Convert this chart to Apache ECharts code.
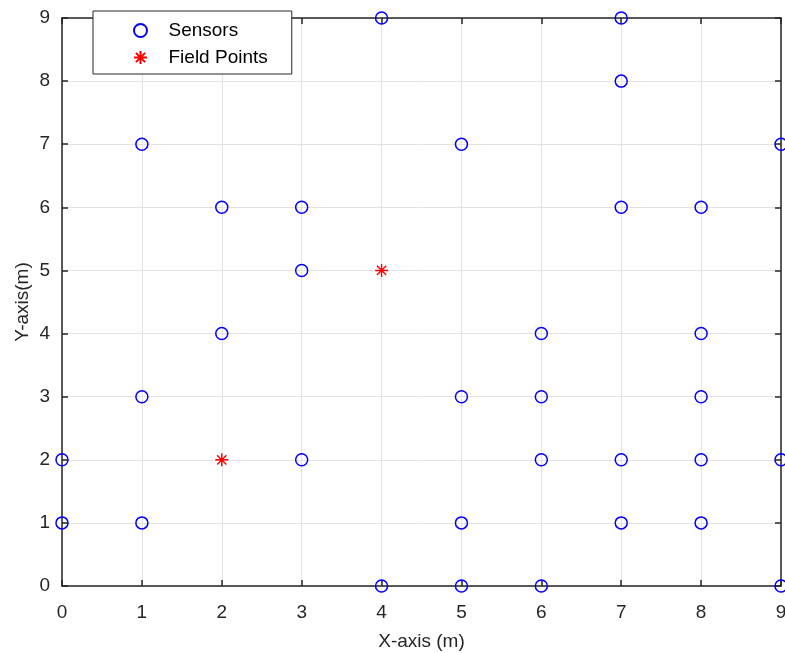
<!DOCTYPE html>
<html>
<head>
<meta charset="utf-8">
<script src="https://cdn.jsdelivr.net/npm/echarts@6/dist/echarts.min.js"></script>
<style>html,body{margin:0;padding:0;background:#fff;overflow:hidden;}#c{width:785px;height:653px;}</style>
</head>
<body>
<div id="c"></div>
<script>
const sensorX = [4, 7, 7, 1, 5, 9, 2, 3, 7, 8, 3, 2, 6, 8, 1, 5, 6, 8, 0, 3, 6, 7, 8, 9, 0, 1, 5, 7, 8, 4, 5, 6, 9];
const sensorY = [9, 9, 8, 7, 7, 7, 6, 6, 6, 6, 5, 4, 4, 4, 3, 3, 3, 3, 2, 2, 2, 2, 2, 2, 1, 1, 1, 1, 1, 0, 0, 0, 0];
const fieldX = [4, 2];
const fieldY = [5, 2];
const seriesNames = ['Sensors', 'Field Points'];
const xTitle = 'X-axis (m)';
const yTitle = 'Y-axis(m)';
const axisMin = 0, axisMax = 9, axisStep = 1;

const FONT = "'Liberation Sans', Arial, sans-serif";
const AX = '#262626';
const star = 'path://M0,-1L0,1M-1,0L1,0M-0.71,-0.71L0.71,0.71M-0.71,0.71L0.71,-0.71';

const baseAxis = {
  min: axisMin, max: axisMax, interval: axisStep,
  axisLine: {show: true, onZero: false, lineStyle: {color: AX, width: 1.5}},
  axisTick: {show: true, inside: true, length: 6, lineStyle: {color: AX, width: 1.5}},
};

const chart = echarts.init(document.getElementById('c'));
chart.setOption({
  animation: false,
  backgroundColor: '#fff',
  grid: {left: 62, right: 4, top: 18, bottom: 67, containLabel: false, outerBoundsMode: 'none'},
  legend: {
    orient: 'vertical', left: 93, top: 11,
    backgroundColor: '#fff', borderColor: AX, borderWidth: 1,
    padding: [10, 24, 7, 40],
    itemWidth: 46, itemHeight: 13, itemGap: 8,
    textStyle: {fontFamily: FONT, fontSize: 19, color: '#000'},
    data: seriesNames
  },
  xAxis: [
    Object.assign({}, baseAxis, {
      type: 'value', position: 'bottom',
      name: xTitle, nameLocation: 'middle', nameGap: 46, nameMoveOverlap: false,
      nameTextStyle: {fontFamily: FONT, fontSize: 19, color: AX},
      axisLabel: {fontFamily: FONT, fontSize: 19, color: AX, margin: 17},
      splitLine: {show: true, lineStyle: {color: '#e3e3e3', width: 1}}
    }),
    Object.assign({}, baseAxis, {
      type: 'value', position: 'top',
      axisLabel: {show: false}, splitLine: {show: false}
    })
  ],
  yAxis: [
    Object.assign({}, baseAxis, {
      type: 'value', position: 'left',
      name: yTitle, nameLocation: 'middle', nameGap: 30, nameRotate: 90, nameMoveOverlap: false,
      nameTextStyle: {fontFamily: FONT, fontSize: 19, color: AX},
      axisLabel: {fontFamily: FONT, fontSize: 19, color: AX, margin: 12},
      splitLine: {show: true, lineStyle: {color: '#e3e3e3', width: 1}}
    }),
    Object.assign({}, baseAxis, {
      type: 'value', position: 'right',
      axisLabel: {show: false}, splitLine: {show: false}
    })
  ],
  series: [
    {
      name: seriesNames[0], type: 'scatter', clip: false,
      xAxisIndex: 0, yAxisIndex: 0,
      symbol: 'circle', symbolSize: 12,
      itemStyle: {color: 'rgba(0,0,0,0)', borderColor: '#0000ff', borderWidth: 1.5, opacity: 1},
      data: sensorX.map((x, i) => [x, sensorY[i]]),
      z: 5
    },
    {
      name: seriesNames[1], type: 'scatter', clip: false,
      xAxisIndex: 0, yAxisIndex: 0,
      symbol: star, symbolSize: 13,
      itemStyle: {color: 'rgba(0,0,0,0)', borderColor: '#ff0000', borderWidth: 1.4, opacity: 1},
      data: fieldX.map((x, i) => [x, fieldY[i]]),
      z: 5
    }
  ]
});
</script>
</body>
</html>
